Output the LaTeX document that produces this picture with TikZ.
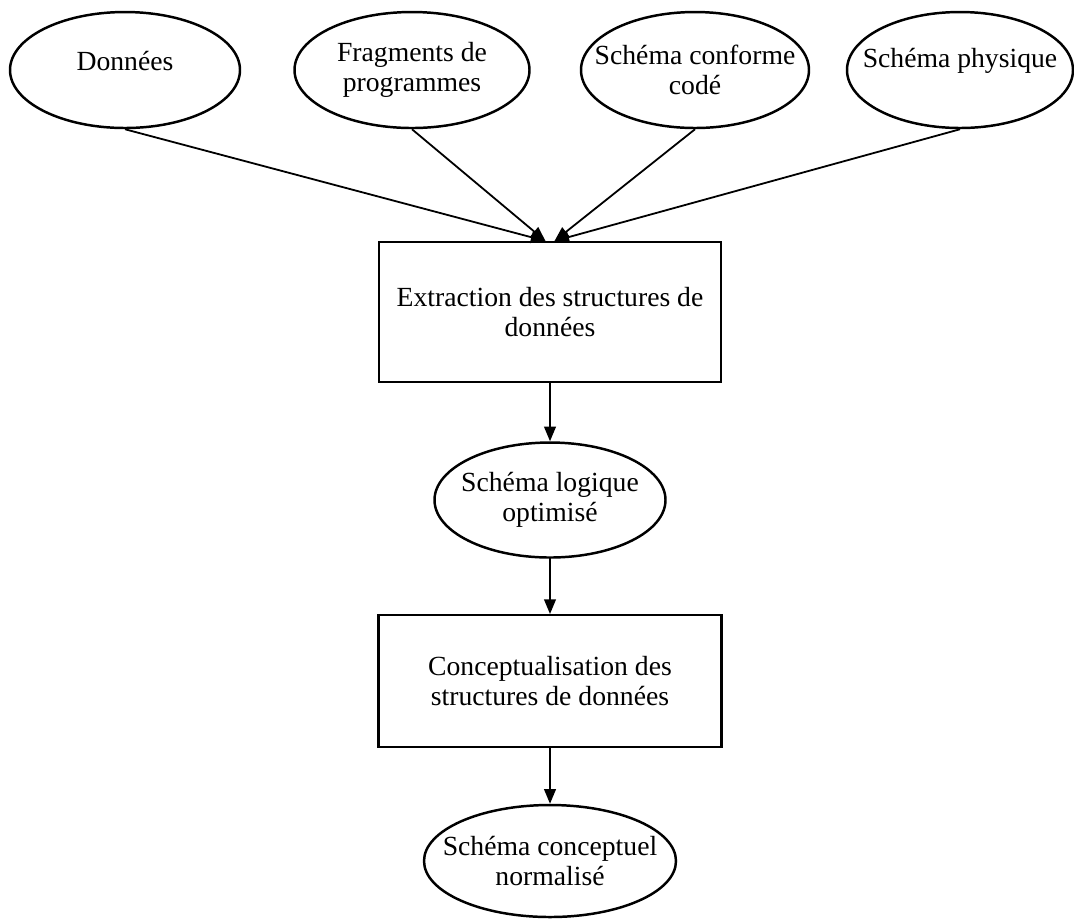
\documentclass[tikz,border=0pt]{standalone}
\usepackage{fontspec}
\setmainfont{Liberation Serif}
\usetikzlibrary{shapes.geometric,arrows.meta}
\newlength\pxu
\setlength\pxu{0.4444pt}
\begin{document}
\begin{tikzpicture}[x=0.4444pt, y=-0.4444pt,
  every node/.style={font=\fontsize{12.3}{13.5}\selectfont},
  ell/.style={ellipse, draw, line width=1.1pt, inner sep=0pt},
  lbl/.style={align=center, inner sep=0pt},
  oneline/.style={align=center, inner sep=0pt, yshift=4pt},
  procbox/.style={rectangle, draw, line width=0.9pt, align=center, inner sep=0pt},
  link/.style={line width=0.8pt, -{Triangle[length=6.5pt,width=5.2pt]}}]
\useasboundingbox (0,0) rectangle (1074,919);

% sources
\node[ell, minimum width=230\pxu, minimum height=116\pxu,
      label={[oneline]center:{Données}}] (don) at (125,70) {};
\node[ell, minimum width=235\pxu, minimum height=116\pxu,
      label={[lbl]center:{Fragments de\\programmes}}] (frag) at (412,70) {};
\node[ell, minimum width=228\pxu, minimum height=116\pxu,
      label={[lbl]center:{Schéma conforme\\codé}}] (conf) at (695,70) {};
\node[ell, minimum width=226\pxu, minimum height=116\pxu,
      label={[oneline]center:{Schéma physique}}] (phys) at (960,70) {};

% processing chain
\node[procbox, minimum width=342\pxu, minimum height=140\pxu] (extr) at (550,312)
  {Extraction des structures de\\données};
\node[ell, minimum width=231\pxu, minimum height=115\pxu,
      label={[lbl]center:{Schéma logique\\optimisé}}] (logi) at (550,500) {};
\node[procbox, minimum width=343\pxu, minimum height=132\pxu] (conc) at (550,681)
  {Conceptualisation des\\structures de données};
\node[ell, minimum width=252\pxu, minimum height=112\pxu,
      label={[lbl]center:{Schéma conceptuel\\normalisé}}] (norm) at (550,861) {};

% connectors
\draw[link] (don.south)  -- ([xshift=-2pt]extr.north);
\draw[link] (frag.south) -- ([xshift=-2pt]extr.north);
\draw[link] (conf.south) -- ([xshift=2pt]extr.north);
\draw[link] (phys.south) -- ([xshift=2pt]extr.north);
\draw[link] (extr.south) -- (logi.north);
\draw[link] (logi.south) -- (conc.north);
\draw[link] (conc.south) -- (norm.north);
\end{tikzpicture}
\end{document}
